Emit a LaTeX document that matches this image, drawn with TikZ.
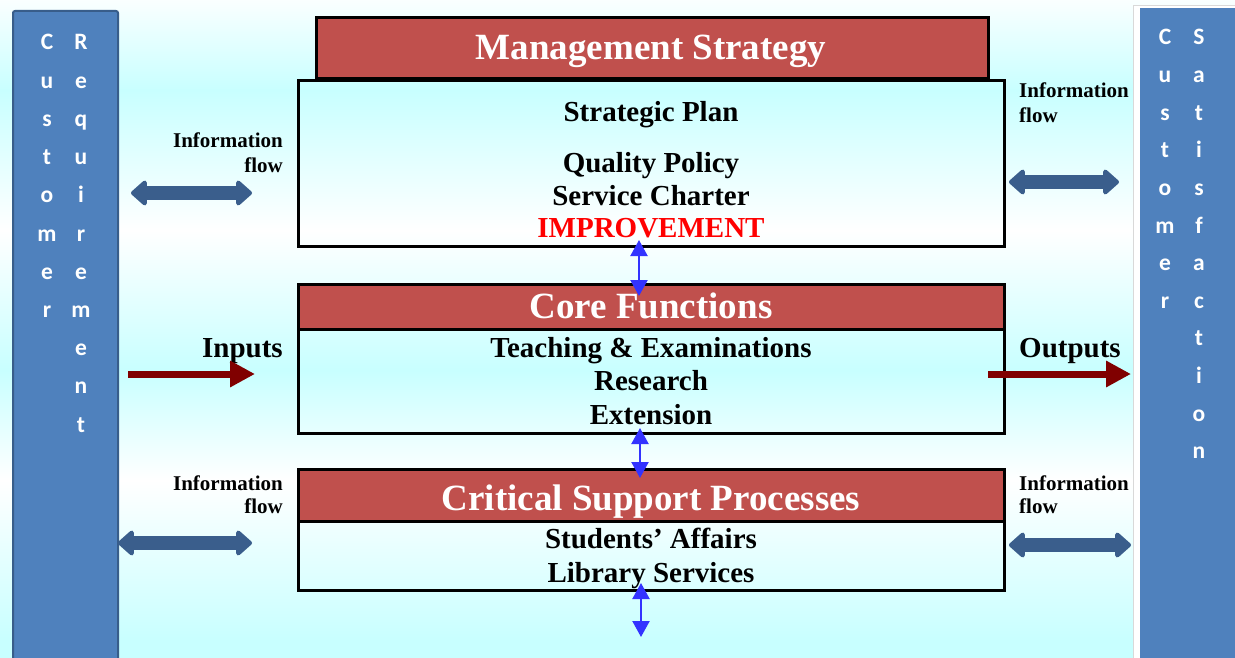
\documentclass[tikz,border=0pt]{standalone}
\usepackage{fontspec}
\setmainfont{Liberation Serif}
\newfontfamily\barfont{Carlito}
\usetikzlibrary{arrows.meta}
\definecolor{bgcyan}{RGB}{200,255,255}
\definecolor{bgwhite}{RGB}{250,255,255}
\definecolor{hdrred}{RGB}{192,80,77}
\definecolor{barblue}{RGB}{79,129,189}
\definecolor{barline}{RGB}{56,93,138}
\definecolor{infoblue}{RGB}{58,94,140}
\definecolor{vblue}{RGB}{51,51,255}
\definecolor{inred}{RGB}{128,0,0}
\begin{document}
\begin{tikzpicture}[x=1pt,y=-1pt,
  hdrbox/.style={draw=black, line width=2.6pt, fill=hdrred, inner sep=0pt, anchor=north west},
  bodybox/.style={draw=black, line width=2.6pt, inner sep=0pt, anchor=north west},
  hdrtext/.style={anchor=base, inner sep=0pt, text=white, font=\bfseries\fontsize{37}{40}\selectfont},
  itm/.style={anchor=base, inner sep=0pt, font=\bfseries\fontsize{29}{32}\selectfont},
  infotext/.style={anchor=base, inner sep=0pt, font=\bfseries\fontsize{21}{25}\selectfont},
  barletter/.style={anchor=base, inner sep=0pt, text=white, font=\barfont\bfseries\fontsize{23.5}{25}\selectfont},
  infoarrow/.style={line width=14pt, draw=infoblue, {Triangle[length=17pt 0 0, width=29pt 0 0, round]}-{Triangle[length=17pt 0 0, width=29pt 0 0, round]}},
  varrow/.style={line width=2.2pt, draw=vblue, {Triangle[length=16pt 0 0, width=17pt 0 0]}-{Triangle[length=16pt 0 0, width=17pt 0 0]}},
  ioarrow/.style={line width=7pt, draw=inred, -{Triangle[length=25pt 0 0, width=25pt 0 0]}}
]
\useasboundingbox (0,0) rectangle (1235,658);
% background bands
\shade[top color=bgwhite, bottom color=bgcyan] (0,0) rectangle (1235,91);
\shade[top color=bgcyan, bottom color=white] (0,90) rectangle (1235,231);
\shade[top color=white, bottom color=bgcyan] (0,230) rectangle (1235,371);
\shade[top color=bgcyan, bottom color=white] (0,370) rectangle (1235,481);
\shade[top color=white, bottom color=bgcyan] (0,480) rectangle (1235,641);
\fill[bgcyan] (0,640) rectangle (1235,658);

% left bar
\node[draw=barline, line width=2pt, fill=barblue, rounded corners=2pt, minimum width=105pt, minimum height=660pt, anchor=north west, inner sep=0pt] (lbar) at (12,10) {};
\foreach \l [count=\i] in {C,u,s,t,o,m,e,r}
  \node[barletter] (lc\i) at (47,{50+38.2*(\i-1)}) {\l};
\foreach \l [count=\i] in {R,e,q,u,i,r,e,m,e,n,t}
  \node[barletter] (lr\i) at (81,{50+38.2*(\i-1)}) {\l};

% right bar
\node[draw=black!15, line width=1pt, fill=white, minimum width=110pt, minimum height=670pt, anchor=north west, inner sep=0pt] (rbarshadow) at (1133,5) {};
\node[fill=barblue, minimum width=100pt, minimum height=660pt, anchor=north west, inner sep=0pt] (rbar) at (1140,8) {};
\foreach \l [count=\i] in {C,u,s,t,o,m,e,r}
  \node[barletter] (rc\i) at (1165,{45+37.6*(\i-1)}) {\l};
\foreach \l [count=\i] in {S,a,t,i,s,f,a,c,t,i,o,n}
  \node[barletter] (rs\i) at (1199,{45+37.6*(\i-1)}) {\l};

% management
\node[hdrbox, minimum width=672pt, minimum height=61pt] (mshdr) at (315,16) {};
\node[hdrtext] (mstitle) at (651,60) {Management Strategy};
\node[bodybox, minimum width=706pt, minimum height=166pt] (msbody) at (297,79) {};
\node[itm] (sp) at (651,122) {Strategic Plan};
\node[itm] (qp) at (651,172) {Quality Policy};
\node[itm] (sc) at (651,205) {Service Charter};
\node[itm, text=red] (imp) at (651,237) {IMPROVEMENT};

% core functions
\node[hdrbox, minimum width=706pt, minimum height=45pt] (cfhdr) at (297,283) {};
\node[hdrtext] (cftitle) at (651,318) {Core Functions};
\node[bodybox, minimum width=706pt, minimum height=104pt] (cfbody) at (297,328) {};
\node[itm] (te) at (651,357) {Teaching \& Examinations};
\node[itm] (re) at (651,390) {Research};
\node[itm] (ex) at (651,424) {Extension};

% critical support
\node[hdrbox, minimum width=706pt, minimum height=52pt] (cshdr) at (297,468) {};
\node[hdrtext] (cstitle) at (651,510) {Critical Support Processes};
\node[bodybox, minimum width=706pt, minimum height=69pt] (csbody) at (297,520) {};
\node[itm] (sa) at (651,548) {Students’ Affairs};
\node[itm] (ls) at (651,582) {Library Services};

% vertical arrows
\coordinate (v1a) at (639,240); \coordinate (v1b) at (639,296);
\coordinate (v2a) at (640,428); \coordinate (v2b) at (640,478);
\coordinate (v3a) at (641,583); \coordinate (v3b) at (641,637);
\draw[varrow] (v1a) -- (v1b);
\draw[varrow] (v2a) -- (v2b);
\draw[varrow] (v3a) -- (v3b);

% information flow labels
\node[infotext, anchor=base east] (ilt1) at (283,148) {Information};
\node[infotext, anchor=base east] (ilt2) at (283,173) {flow};
\node[infotext, anchor=base east] (ilb1) at (283,490) {Information};
\node[infotext, anchor=base east] (ilb2) at (283,513) {flow};
\node[infotext, anchor=base west] (irt1) at (1019,98) {Information};
\node[infotext, anchor=base west] (irt2) at (1019,123) {flow};
\node[infotext, anchor=base west] (irb1) at (1019,490) {Information};
\node[infotext, anchor=base west] (irb2) at (1019,513) {flow};

% information flow arrows
\coordinate (a1l) at (131,193); \coordinate (a1r) at (252,193);
\coordinate (a2l) at (118,543); \coordinate (a2r) at (252,543);
\coordinate (a3l) at (1009,182); \coordinate (a3r) at (1119,182);
\coordinate (a4l) at (1009,545); \coordinate (a4r) at (1131,545);
\draw[infoarrow] (a1l) -- (a1r);
\draw[infoarrow] (a2l) -- (a2r);
\draw[infoarrow] (a3l) -- (a3r);
\draw[infoarrow] (a4l) -- (a4r);

% inputs / outputs
\node[itm, anchor=base east] (inp) at (283,357) {Inputs};
\node[itm, anchor=base west] (outp) at (1019,357) {Outputs};
\coordinate (inA) at (128,374); \coordinate (inB) at (255,374);
\coordinate (outA) at (988,374); \coordinate (outB) at (1131,374);
\draw[ioarrow] (inA) -- (inB);
\draw[ioarrow] (outA) -- (outB);
\end{tikzpicture}
\end{document}
